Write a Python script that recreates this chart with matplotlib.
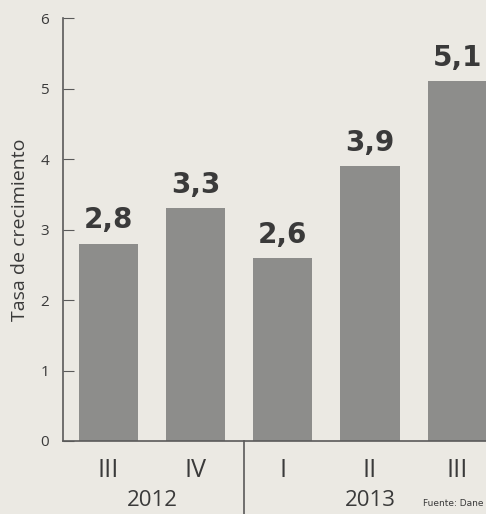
import numpy as np
import matplotlib
matplotlib.use("Agg")
import matplotlib.pyplot as plt
import matplotlib.transforms as mtransforms

# data
quarters = ["III", "IV", "I", "II", "III"]
values = [2.8, 3.3, 2.6, 3.9, 5.1]
value_labels = ["2,8", "3,3", "2,6", "3,9", "5,1"]
years = ["2012", "2013"]
year_centers = [0.5, 3.0]
yticks = [0, 1, 2, 3, 4, 5, 6]

bg = "#ebe9e3"
bar_col = "#8d8d8b"
txt = "#3a3a3a"
line_col = "#5a5a5a"

plt.rcParams['font.family'] = ['Open Sans', 'DejaVu Sans']

fig = plt.figure(figsize=(4.86, 5.14), dpi=100, facecolor=bg)
ax = fig.add_axes([63/486, 73/514, 1 - 63/486, 423/514])
ax.set_facecolor(bg)

x = np.arange(len(values))
ax.bar(x, values, width=0.68, color=bar_col, zorder=2)

for xi, v, lab in zip(x, values, value_labels):
    ax.text(xi, v + 0.13, lab, ha="center", va="bottom", fontsize=20,
            fontweight="bold", color=txt, family="DejaVu Sans")

ax.set_xlim(-0.52, 4.33)
ax.set_ylim(0, 6)
ax.set_yticks(yticks)
ax.set_xticks(x)
ax.set_xticklabels(quarters, fontsize=18, color=txt)
ax.tick_params(axis="x", length=0, pad=12)
ax.tick_params(axis="y", direction="in", length=8, color=line_col,
               labelsize=11, labelcolor=txt, pad=10)

for s in ["top", "right"]:
    ax.spines[s].set_visible(False)
ax.spines["left"].set_color(line_col)
ax.spines["bottom"].set_color(line_col)
ax.spines["left"].set_linewidth(1.2)
ax.spines["bottom"].set_linewidth(1.2)

ax.set_ylabel("Tasa de crecimiento", fontsize=14, color=txt, labelpad=8)

# year group labels and separator
trans = mtransforms.blended_transform_factory(ax.transData, ax.transAxes)
ax.plot([1.56, 1.56], [0, -0.2], transform=trans, color=line_col, lw=1.2,
        clip_on=False)
for yc, yr in zip(year_centers, years):
    ax.text(yc, -0.14, yr, transform=trans, ha="center", va="center",
            fontsize=16, color=txt)

fig.text(0.995, 0.012, "Fuente: Dane", ha="right", va="bottom",
         fontsize=6.5, color=txt, family="Liberation Sans Narrow")

fig.savefig("out.png", dpi=100, facecolor=bg)
